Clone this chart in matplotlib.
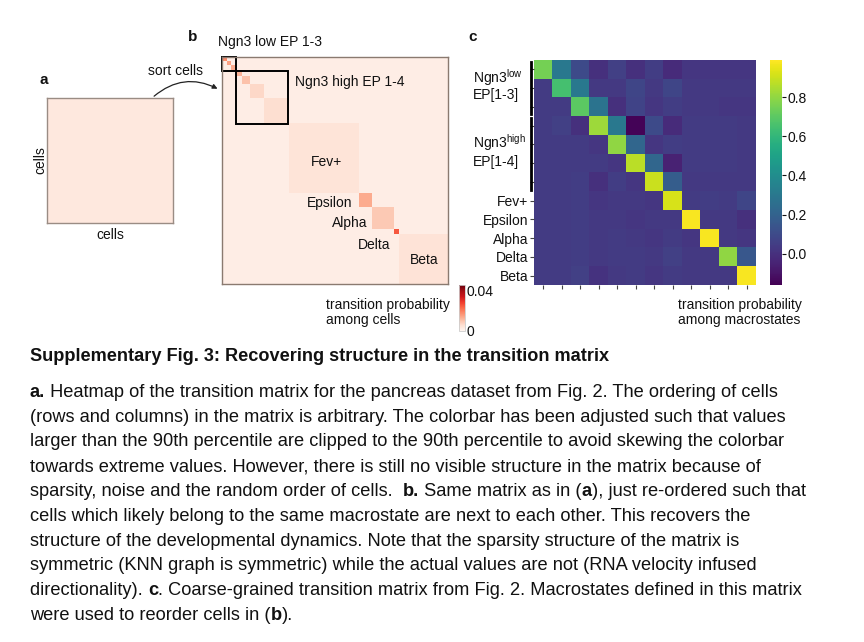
import numpy as np
import matplotlib
matplotlib.use('Agg')
import matplotlib.pyplot as plt
from matplotlib.patches import Rectangle

plt.rcParams['font.family'] = ['Liberation Sans', 'DejaVu Sans']
plt.rcParams['mathtext.fontset'] = 'custom'
plt.rcParams['mathtext.rm'] = 'Liberation Sans'

# ---- data ----
# panel a: unsorted matrix looks flat after clipping
unsorted_value = 0.003
n_cells_a = 40

# panel b: sorted matrix, diagonal blocks (cells per block, mean value)
block_names = ['EP1 low', 'EP2 low', 'EP3 low', 'EP1 high', 'EP2 high', 'EP3 high',
               'EP4 high', 'Fev+', 'Epsilon', 'Alpha', 'Delta', 'Beta']
block_sizes = [14, 14, 14, 18, 25, 40, 75, 210, 40, 65, 15, 150]
block_values = [0.016, 0.013, 0.012, 0.011, 0.009, 0.006, 0.005,
                0.004, 0.012, 0.008, 0.022, 0.0042]
background_b = 0.0018

# panel c: coarse-grained transition matrix
macro_labels = ['', '', '', '', '', '', '', 'Fev+', 'Epsilon', 'Alpha', 'Delta', 'Beta']
coarse_T = [
    [0.75, 0.30, 0.10, 0.00, 0.06, 0.00, 0.05, -0.02, 0.02, 0.02, 0.02, 0.02],
    [0.04, 0.65, 0.30, 0.03, 0.03, 0.08, 0.03, 0.08, 0.03, 0.03, 0.03, 0.03],
    [0.04, 0.04, 0.70, 0.28, 0.00, 0.07, 0.02, 0.05, 0.03, 0.03, 0.02, 0.02],
    [0.04, 0.06, 0.00, 0.82, 0.30, -0.15, 0.10, -0.02, 0.04, 0.04, 0.04, 0.03],
    [0.04, 0.04, 0.04, 0.02, 0.80, 0.22, 0.02, 0.05, 0.04, 0.04, 0.04, 0.03],
    [0.04, 0.04, 0.04, 0.04, 0.02, 0.87, 0.22, -0.05, 0.04, 0.04, 0.04, 0.03],
    [0.04, 0.04, 0.05, 0.00, 0.05, 0.02, 0.90, 0.18, 0.03, 0.03, 0.03, 0.03],
    [0.04, 0.04, 0.05, 0.02, 0.03, 0.03, 0.02, 0.92, 0.04, 0.05, 0.04, 0.08],
    [0.04, 0.04, 0.05, 0.03, 0.03, 0.02, 0.03, 0.03, 0.98, 0.03, 0.03, 0.00],
    [0.04, 0.04, 0.05, 0.03, 0.04, 0.03, 0.02, 0.04, 0.02, 0.98, 0.03, 0.02],
    [0.04, 0.04, 0.05, 0.03, 0.04, 0.04, 0.03, 0.06, 0.03, 0.03, 0.80, 0.15],
    [0.04, 0.04, 0.06, 0.01, 0.03, 0.04, 0.02, 0.04, 0.03, 0.03, 0.03, 0.98],
]
cb_c_ticks = [0.0, 0.2, 0.4, 0.6, 0.8]

caption_title = 'Supplementary Fig. 3: Recovering structure in the transition matrix'
caption_lines = [
    [('a.', 'bold'), (' Heatmap of the transition matrix for the pancreas dataset from Fig. 2. The ordering of cells', 'normal')],
    [('(rows and columns) in the matrix is arbitrary. The colorbar has been adjusted such that values', 'normal')],
    [('larger than the 90th percentile are clipped to the 90th percentile to avoid skewing the colorbar', 'normal')],
    [('towards extreme values. However, there is still no visible structure in the matrix because of', 'normal')],
    [('sparsity, noise and the random order of cells.  ', 'normal'), ('b.', 'bold'),
     (' Same matrix as in (', 'normal'), ('a', 'bold'), ('), just re-ordered such that', 'normal')],
    [('cells which likely belong to the same macrostate are next to each other. This recovers the', 'normal')],
    [('structure of the developmental dynamics. Note that the sparsity structure of the matrix is', 'normal')],
    [('symmetric (KNN graph is symmetric) while the actual values are not (RNA velocity infused', 'normal')],
    [('directionality). ', 'normal'), ('c', 'bold'),
     ('. Coarse-grained transition matrix from Fig. 2. Macrostates defined in this matrix', 'normal')],
    [('were used to reorder cells in (', 'normal'), ('b', 'bold'), (').', 'normal')],
]

# ---- layout helpers (pixels, origin top-left) ----
W, H = 864, 642


def box(x0, y0, x1, y1):
    return [x0 / W, 1 - y1 / H, (x1 - x0) / W, (y1 - y0) / H]


def fx(x):
    return x / W


def fy(y):
    return 1 - y / H


fig = plt.figure(figsize=(W / 100, H / 100), dpi=100)
fig.patch.set_facecolor('white')
txt = '#111111'
fs = 10

# ---- panel a ----
ax_a = fig.add_axes(box(47, 98, 173, 223))
ax_a.imshow(np.full((n_cells_a, n_cells_a), unsorted_value), cmap='Reds',
            vmin=0, vmax=0.04, aspect='auto', interpolation='nearest')
ax_a.set_xticks([])
ax_a.set_yticks([])
for s in ax_a.spines.values():
    s.set_color('#9a8c84')
    s.set_linewidth(1)
fig.text(fx(110), fy(235), 'cells', ha='center', va='center', fontsize=fs, color=txt)
fig.text(fx(40), fy(160), 'cells', ha='center', va='center', fontsize=fs,
         rotation=90, color=txt)
fig.text(fx(44), fy(80), 'a', ha='center', va='center', fontsize=11,
         fontweight='bold', color=txt)
fig.text(fx(175), fy(71), 'sort cells', ha='center', va='center', fontsize=fs, color=txt)
fig.add_artist(matplotlib.patches.FancyArrowPatch(
    (fx(152), fy(98)), (fx(220), fy(90)), transform=fig.transFigure,
    connectionstyle='arc3,rad=-0.35', arrowstyle='-|>', mutation_scale=7,
    lw=0.9, color='#222222'))

# ---- panel b ----
n_b = sum(block_sizes)
mat_b = np.full((n_b, n_b), background_b)
starts = np.concatenate([[0], np.cumsum(block_sizes)[:-1]])
for st, sz, v in zip(starts, block_sizes, block_values):
    mat_b[st:st + sz, st:st + sz] = v

ax_b = fig.add_axes(box(222, 57, 448, 284))
im_b = ax_b.imshow(mat_b, cmap='Reds', vmin=0, vmax=0.04, aspect='auto',
                   interpolation='nearest')
ax_b.set_xticks([])
ax_b.set_yticks([])
for s in ax_b.spines.values():
    s.set_color('#8a7a70')
    s.set_linewidth(1)
low_end = sum(block_sizes[:3])
high_end = sum(block_sizes[:7])
ax_b.add_patch(Rectangle((-0.5, -0.5), low_end, low_end, fill=False,
                         ec='black', lw=1.4, clip_on=False))
ax_b.add_patch(Rectangle((low_end - 0.5, low_end - 0.5), high_end - low_end,
                         high_end - low_end, fill=False, ec='black', lw=1.4,
                         clip_on=False))

fig.text(fx(193), fy(37), 'b', ha='center', va='center', fontsize=11,
         fontweight='bold', color=txt)
fig.text(fx(218), fy(42), 'Ngn3 low EP 1-3', ha='left', va='center', fontsize=fs, color=txt)
fig.text(fx(295), fy(82), 'Ngn3 high EP 1-4', ha='left', va='center', fontsize=fs, color=txt)
fig.text(fx(326), fy(162), 'Fev+', ha='center', va='center', fontsize=fs, color=txt)
fig.text(fx(352), fy(203), 'Epsilon', ha='right', va='center', fontsize=fs, color=txt)
fig.text(fx(367), fy(223), 'Alpha', ha='right', va='center', fontsize=fs, color=txt)
fig.text(fx(390), fy(245), 'Delta', ha='right', va='center', fontsize=fs, color=txt)
fig.text(fx(424), fy(260), 'Beta', ha='center', va='center', fontsize=fs, color=txt)

cax_b = fig.add_axes(box(459, 285, 465, 331))
cb_b = fig.colorbar(im_b, cax=cax_b, ticks=[0, 0.04])
cb_b.ax.set_yticklabels(['0', '0.04'])
cb_b.ax.tick_params(length=0, labelsize=fs, pad=1, colors=txt)
cb_b.ax.get_yticklabels()[1].set_va('top')
cb_b.outline.set_edgecolor('#cccccc')
cb_b.outline.set_linewidth(0.6)
fig.text(fx(326), fy(305), 'transition probability', ha='left', va='center',
         fontsize=fs, color=txt)
fig.text(fx(326), fy(320), 'among cells', ha='left', va='center', fontsize=fs, color=txt)

# ---- panel c ----
ax_c = fig.add_axes(box(534, 60, 756, 285))
im_c = ax_c.imshow(np.array(coarse_T), cmap='viridis', vmin=-0.16, vmax=0.99,
                   aspect='auto', interpolation='nearest')
n_c = len(coarse_T)
ax_c.set_xticks(range(n_c))
ax_c.set_xticklabels([])
ax_c.set_yticks(range(n_c))
ax_c.set_yticklabels(macro_labels)
ax_c.tick_params(length=3, width=0.8, color='#444444', labelsize=fs, pad=1,
                 labelcolor=txt)
for s in ax_c.spines.values():
    s.set_visible(False)

fig.text(fx(473), fy(37), 'c', ha='center', va='center', fontsize=11,
         fontweight='bold', color=txt)
fig.add_artist(plt.Line2D([fx(531), fx(531)], [fy(62), fy(114)], color='black', lw=2))
fig.add_artist(plt.Line2D([fx(531), fx(531)], [fy(118), fy(190)], color='black', lw=2))
fig.text(fx(473), fy(78), r'Ngn3$^{\mathrm{low}}$', ha='left', va='center', fontsize=fs, color=txt)
fig.text(fx(473), fy(95), 'EP[1-3]', ha='left', va='center', fontsize=fs, color=txt)
fig.text(fx(473), fy(143), r'Ngn3$^{\mathrm{high}}$', ha='left', va='center', fontsize=fs, color=txt)
fig.text(fx(473), fy(162), 'EP[1-4]', ha='left', va='center', fontsize=fs, color=txt)

cax_c = fig.add_axes(box(770, 60, 782, 285))
cb_c = fig.colorbar(im_c, cax=cax_c, ticks=cb_c_ticks)
cb_c.ax.set_yticklabels(['%.1f' % t for t in cb_c_ticks])
cb_c.ax.tick_params(length=3, width=0.8, labelsize=fs, pad=1, colors=txt)
cb_c.outline.set_visible(False)
fig.text(fx(678), fy(305), 'transition probability', ha='left', va='center',
         fontsize=fs, color=txt)
fig.text(fx(678), fy(320), 'among macrostates', ha='left', va='center',
         fontsize=fs, color=txt)

# ---- caption ----
cap_fs = 13.15
fig.text(fx(30), fy(361), caption_title, ha='left', va='baseline', fontsize=13.1,
         fontweight='bold', color=txt)

renderer = fig.canvas.get_renderer()
for i, segs in enumerate(caption_lines):
    x = 30
    y = 397 + 24.75 * i
    for s, w in segs:
        t = fig.text(fx(x), fy(y), s, ha='left', va='baseline', fontsize=cap_fs,
                     fontweight=w, color=txt)
        x += t.get_window_extent(renderer).width

fig.savefig('out.png', dpi=100, facecolor='white')
